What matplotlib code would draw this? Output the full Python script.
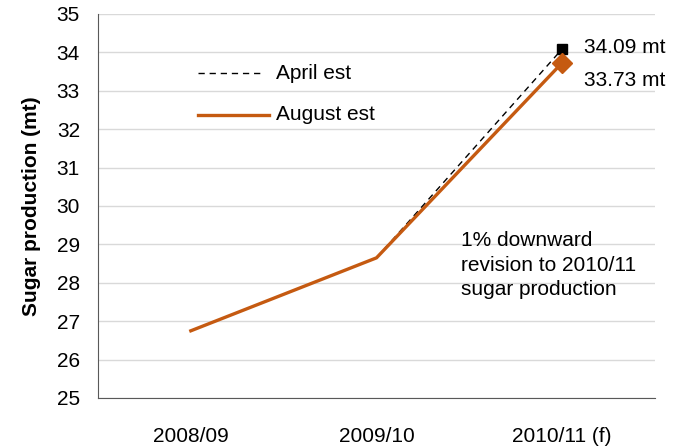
import matplotlib
matplotlib.use("Agg")
import matplotlib.pyplot as plt

plt.rcParams['font.family'] = ['Liberation Sans', 'DejaVu Sans']

categories = ["2008/09", "2009/10", "2010/11 (f)"]
april_est = [26.75, 28.65, 34.09]
august_est = [26.75, 28.65, 33.73]
orange = "#C55A11"
fs = 15

fig = plt.figure(figsize=(6.82, 4.48), dpi=100)
ax = fig.add_axes([98/682, 1 - 398/448, 557/682, 384/448])

x = list(range(len(categories)))
ax.plot(x, april_est, color="black", lw=1.0, ls=(0, (4.5, 3.5)), zorder=3)
ax.plot(x[-1], april_est[-1], marker="s", color="black", ms=7, zorder=4)
ax.plot(x, august_est, color=orange, lw=2.4, zorder=3)
ax.plot(x[-1], august_est[-1], marker="D", color=orange, ms=10, zorder=5)

ax.set_xlim(-0.5, 2.5)
ax.set_ylim(25, 35)
ax.set_yticks(range(25, 36))
ax.set_xticks(x)
ax.set_xticklabels(categories)
ax.tick_params(axis="both", length=0, labelsize=fs, colors="black")
ax.tick_params(axis="x", pad=21)
ax.tick_params(axis="y", pad=13)
ax.grid(axis="y", color="#D9D9D9", lw=1)
ax.set_axisbelow(True)
for s in ["top", "right"]:
    ax.spines[s].set_visible(False)
ax.spines["left"].set_color("#595959")
ax.spines["bottom"].set_color("#595959")

ax.set_ylabel("Sugar production (mt)", fontsize=15, fontweight="bold", labelpad=11)

ax.text(2.116, 34.14, f"{april_est[-1]:.2f} mt", fontsize=fs, va="center")
ax.text(2.116, 33.28, f"{august_est[-1]:.2f} mt", fontsize=fs, va="center")

ax.text(1.457, 28.46, "1% downward\nrevision to 2010/11\nsugar production", fontsize=fs,
        va="center", ha="left", linespacing=1.35)

# legend
ax.plot([0.04, 0.39], [33.46, 33.46], color="black", lw=1.0, ls=(0, (4.5, 3.5)))
ax.text(0.457, 33.46, "April est", fontsize=fs, va="center")
ax.plot([0.04, 0.42], [32.37, 32.37], color=orange, lw=2.4)
ax.text(0.457, 32.37, "August est", fontsize=fs, va="center")

fig.savefig("out.png", dpi=100)
